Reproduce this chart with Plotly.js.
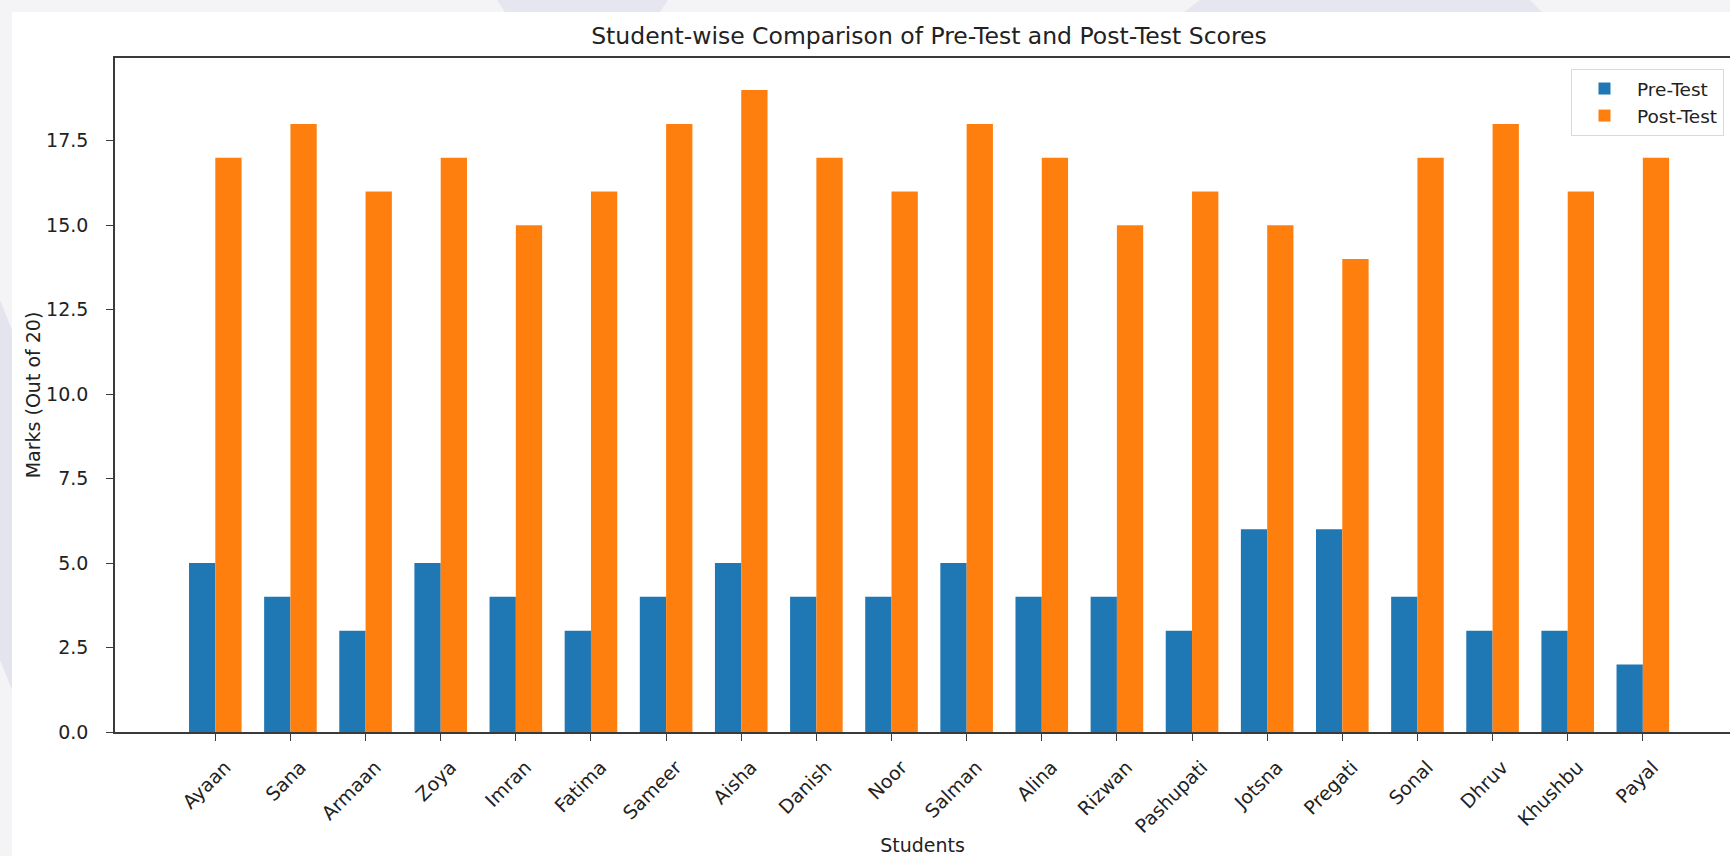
<!DOCTYPE html>
<html>
<head>
<meta charset="utf-8">
<script src="https://cdn.plot.ly/plotly-3.0.1.min.js"></script>
<style>
  html, body { margin: 0; padding: 0; background: #ffffff; }
  #chart { width: 1730px; height: 856px; }
</style>
</head>
<body>
<div id="chart"></div>
<script>
// ---- data ----
const students = ["Ayaan", "Sana", "Armaan", "Zoya", "Imran", "Fatima", "Sameer", "Aisha", "Danish", "Noor",
                  "Salman", "Alina", "Rizwan", "Pashupati", "Jotsna", "Pregati", "Sonal", "Dhruv", "Khushbu", "Payal"];
const preTest  = [5, 4, 3, 5, 4, 3, 4, 5, 4, 4, 5, 4, 4, 3, 6, 6, 4, 3, 3, 2];
const postTest = [17, 18, 16, 17, 15, 16, 18, 19, 17, 16, 18, 17, 15, 16, 15, 14, 17, 18, 16, 17];
const yTickVals = [0, 2.5, 5, 7.5, 10, 12.5, 15, 17.5];

// ---- layout geometry (pixels) ----
const W = 1730, H = 856;
const L = 115, R = 0, T = 58, B = 124;
const plotW = W - L - R, plotH = H - T - B;
const px = v => (v - L) / plotW;          // pixel x -> paper x
const py = v => (H - B - v) / plotH;      // pixel y -> paper y

const font = "DejaVu Sans, Liberation Sans, sans-serif";

// decorative page background (outer frame behind the chart image)
const deco = [
  {type: "rect", xref: "paper", yref: "paper", x0: px(0), x1: px(W), y0: py(0), y1: py(12),
   fillcolor: "#f4f4f7", line: {width: 0}, layer: "below"},
  {type: "rect", xref: "paper", yref: "paper", x0: px(0), x1: px(12), y0: py(0), y1: py(H),
   fillcolor: "#f4f4f7", line: {width: 0}, layer: "below"},
  {type: "path", xref: "paper", yref: "paper", layer: "below", line: {width: 0}, fillcolor: "#e6e6f0",
   path: `M${px(497)},${py(0)} L${px(668)},${py(0)} L${px(660)},${py(12)} L${px(505)},${py(12)} Z`},
  {type: "path", xref: "paper", yref: "paper", layer: "below", line: {width: 0}, fillcolor: "#e6e6f0",
   path: `M${px(1184)},${py(12)} L${px(1200)},${py(0)} L${px(1530)},${py(0)} L${px(1542)},${py(12)} Z`},
  {type: "path", xref: "paper", yref: "paper", layer: "below", line: {width: 0}, fillcolor: "#e4e4ee",
   path: `M${px(0)},${py(300)} L${px(12)},${py(330)} L${px(12)},${py(690)} L${px(0)},${py(660)} Z`}
];

const traces = [
  {type: "bar", name: "Pre-Test", x: students, y: preTest, legendgroup: "a",
   marker: {color: "#1f77b4", line: {width: 0}}, hoverinfo: "x+y+name"},
  {type: "bar", name: "Post-Test", x: students, y: postTest, legendgroup: "b",
   marker: {color: "#ff7f0e", line: {width: 0}}, hoverinfo: "x+y+name"}
];

const layout = {
  width: W, height: H,
  margin: {l: L, r: R, t: T, b: B, pad: 0},
  paper_bgcolor: "#ffffff",
  plot_bgcolor: "#ffffff",
  font: {family: font, size: 19, color: "#222222"},
  barmode: "group",
  bargap: 0.3,
  bargroupgap: 0,
  title: {
    text: "Student-wise Comparison of Pre-Test and Post-Test Scores",
    font: {family: font, size: 23.5, color: "#222222"},
    xref: "container", x: 929 / W, xanchor: "center",
    yref: "container", y: 1 - 36 / H, yanchor: "middle"
  },
  xaxis: {
    type: "category",
    range: [-1.335, 20.16],
    showgrid: false, zeroline: false,
    showline: true, linecolor: "#3a3a3a", linewidth: 1.6,
    mirror: true,
    ticks: "outside", ticklen: 7, tickwidth: 1.4, tickcolor: "#3a3a3a",
    tickangle: -45,
    ticklabelshift: 10,
    ticklabelstandoff: 8,
    tickfont: {family: font, size: 19, color: "#222222"},
    title: {text: "Students", font: {family: font, size: 19, color: "#222222"}, standoff: 11},
    automargin: false
  },
  yaxis: {
    range: [0, 19.95],
    tickvals: yTickVals,
    tickformat: ".1f",
    showgrid: false, zeroline: false,
    showline: true, linecolor: "#3a3a3a", linewidth: 1.6,
    ticks: "outside", ticklen: 7, tickwidth: 1.4, tickcolor: "#3a3a3a",
    ticklabelstandoff: 14,
    tickfont: {family: font, size: 19, color: "#222222"},
    title: {text: "Marks (Out of 20)", font: {family: font, size: 19, color: "#222222"}, standoff: 0},
    automargin: false
  },
  legend: {
    x: px(1571), xanchor: "left",
    y: py(69), yanchor: "top",
    bgcolor: "rgba(255,255,255,0.9)",
    bordercolor: "#d9d9d9", borderwidth: 1,
    font: {family: font, size: 18.5, color: "#222222"},
    traceorder: "normal",
    tracegroupgap: 7,
    itemwidth: 55
  },
  shapes: deco,
  showlegend: true
};

Plotly.newPlot("chart", traces, layout, {displayModeBar: false, responsive: false});
</script>
</body>
</html>
